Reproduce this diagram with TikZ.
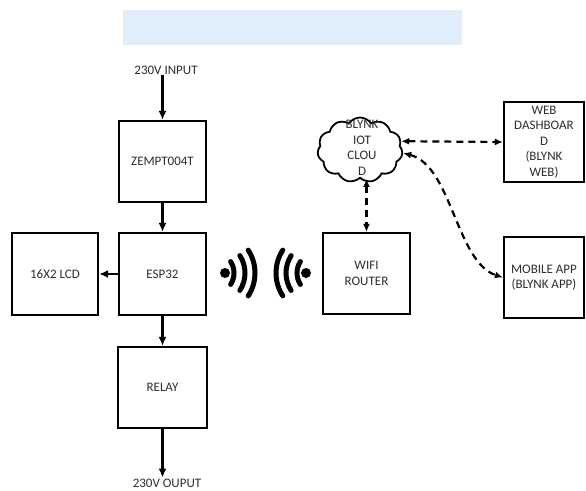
\documentclass[tikz,border=0pt]{standalone}
\usepackage{fontspec}
\setmainfont{Carlito}
\usetikzlibrary{arrows.meta,shapes.symbols,positioning,calc}
\definecolor{bandblue}{RGB}{224,237,251}
\definecolor{txtgray}{RGB}{45,45,45}
\tikzset{
  blk/.style={draw,line width=2.2pt,minimum width=87pt,minimum height=81pt,
    align=center,text=txtgray,inner sep=2pt},
  lbl/.style={text=txtgray,inner sep=1pt},
  flow/.style={line width=2.2pt,-{Latex[length=9pt,width=8pt]}},
  link/.style={line width=2.2pt,dash pattern=on 7pt off 5pt,
    {Latex[length=8pt,width=7pt]}-{Latex[length=8pt,width=7pt]}},
  wave/.style={line width=5pt,line cap=round}
}
\begin{document}
\begin{tikzpicture}[x=1pt,y=-1pt,font=\fontsize{13}{15.5}\selectfont]
\useasboundingbox (0,0) rectangle (586,490);
\clip (0,0) rectangle (586,490);
% faint banner on top
\fill[bandblue] (123,10) rectangle (462,45);
% power path
\node[lbl] (inp) at (166,70) {230V INPUT};
\node[blk] (zempt) at (162.5,161.5) {ZEMPT004T};
\node[blk,minimum height=82pt] (esp) at (162.5,274) {ESP32};
\node[blk,minimum width=89pt] (relay) at (162.5,387.5) {RELAY};
\node[lbl] (outp) at (167,483) {230V OUPUT};
\node[blk,minimum width=86pt,minimum height=82pt] (lcd) at (55,274) {16X2 LCD};
\draw[flow] (inp.south -| zempt.north) -- (zempt.north);
\draw[flow] (zempt) -- (esp);
\draw[flow] (esp) -- (relay);
\draw[flow] (relay.south) -- (relay.south |- outp.north);
\draw[flow] (esp) -- (lcd);
% network side
\node[blk] (router) at (366.5,273.5) {WIFI\\ROUTER};
\node[draw,cloud,cloud puffs=11,cloud puff arc=110,aspect=1.3,line width=1.8pt,
  minimum width=85pt,minimum height=65pt,inner sep=0pt] (cloud) at (360,150) {};
\node[lbl,align=center] (cloudtxt) at (362,148) {BLYNK\\IOT\\CLOU\\D};
\node[blk,minimum width=80pt,minimum height=80pt] (web) at (544,142)
  {WEB\\DASHBOAR\\D\\(BLYNK\\WEB)};
\node[blk,minimum width=80pt,minimum height=81pt] (mobile) at (544,277.5)
  {MOBILE APP\\(BLYNK APP)};
\draw[link] (cloud.12) -- (web.west);
\draw[link] (cloud.south -| router.north) -- (router.north);
\draw[link] (cloud.-4) .. controls (452,166) and (456,262) .. (mobile.west);
% wireless signs
\fill (225,273) circle (5pt);
\fill (306,273) circle (5pt);
\foreach \r in {21,32,42} {
  \draw[wave] ($(213,273)+(-33:\r)$) arc (-33:33:\r);
  \draw[wave] ($(318,273)+(147:\r)$) arc (147:213:\r);
}
\end{tikzpicture}
\end{document}
